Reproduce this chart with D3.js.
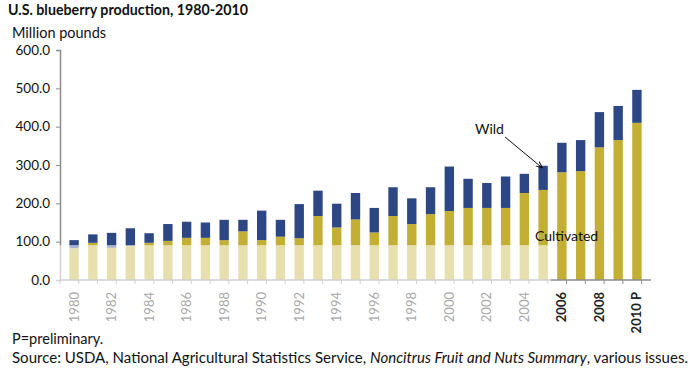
<!DOCTYPE html>
<html>
<head>
<meta charset="utf-8">
<script src="https://cdn.jsdelivr.net/npm/d3@7"></script>
<style>
  body { margin: 0; background: #fff; }
  text { font-family: Lato, "Open Sans", sans-serif; }
</style>
</head>
<body>
<svg id="chart" width="691" height="372"></svg>
<script>
// values (million pounds)
const years = [1980, 1981, 1982, 1983, 1984, 1985, 1986, 1987, 1988, 1989,
  1990, 1991, 1992, 1993, 1994, 1995, 1996, 1997, 1998, 1999,
  2000, 2001, 2002, 2003, 2004, 2005, 2006, 2007, 2008, 2009, 2010];
const cultivated = [83, 97, 84, 89, 97, 102, 110, 110, 104, 127,
  104, 113, 109, 167, 137, 158, 124, 167, 146, 172,
  180, 188, 188, 188, 227, 235, 281, 284, 346, 365, 410];
const wild = [21, 22, 39, 46, 25, 44, 42, 40, 53, 30,
  77, 44, 89, 66, 62, 69, 64, 75, 67, 70,
  116, 76, 65, 82, 50, 63, 77, 81, 92, 89, 86];
const yTicks = [0, 100, 200, 300, 400, 500, 600];
const labelYears = [1980, 1982, 1984, 1986, 1988, 1990, 1992, 1994, 1996,
  1998, 2000, 2002, 2004, 2006, 2008, 2010];

const svg = d3.select("#chart");
const margin = {left: 60, right: 40, top: 50, bottom: 92};
const width = 691 - margin.left - margin.right;
const height = 372 - margin.top - margin.bottom;

const g = svg.append("g")
  .attr("transform", "translate(" + margin.left + "," + margin.top + ")");

const x = d3.scaleBand().domain(years).range([0, width]).padding(0.5);
const y = d3.scaleLinear().domain([0, 600]).range([height, 0]);

const data = years.map(function (yr, i) {
  return {year: yr, cultivated: cultivated[i], wild: wild[i]};
});
const stack = d3.stack().keys(["cultivated", "wild"])(data);
const colors = {cultivated: "#C4AF35", wild: "#2C4784"};

g.selectAll("g.series")
  .data(stack)
  .enter().append("g")
  .attr("class", "series")
  .attr("fill", function (d) { return colors[d.key]; })
  .selectAll("rect")
  .data(function (d) { return d; })
  .enter().append("rect")
  .attr("x", function (d) { return x(d.data.year); })
  .attr("width", x.bandwidth())
  .attr("y", function (d) { return y(d[1]); })
  .attr("height", function (d) { return y(d[0]) - y(d[1]); });

// y axis
const yAxis = g.append("g")
  .call(d3.axisLeft(y).tickValues(yTicks).tickSize(4).tickFormat(d3.format(".1f")));
yAxis.select(".domain").attr("stroke", "#8c8c8c").attr("stroke-width", 1.5);
yAxis.selectAll(".tick line").attr("stroke", "#8c8c8c");
yAxis.selectAll(".tick text")
  .attr("x", -10)
  .attr("font-size", 13.5)
  .attr("fill", "#111");

// x axis: ticks sit between bars
const xAxis = g.append("g")
  .attr("transform", "translate(0," + height + ")");
xAxis.append("line")
  .attr("x1", 0).attr("x2", width)
  .attr("stroke", "#8c8c8c").attr("stroke-width", 1.5);
xAxis.selectAll("line.tk")
  .data(years.concat([null]))
  .enter().append("line")
  .attr("class", "tk")
  .attr("x1", function (d, i) { return i * x.step(); })
  .attr("x2", function (d, i) { return i * x.step(); })
  .attr("y1", 0).attr("y2", 4)
  .attr("stroke", "#8c8c8c");
xAxis.selectAll("text.yr")
  .data(labelYears)
  .enter().append("text")
  .attr("class", "yr")
  .attr("transform", function (d) {
    return "translate(" + (x(d) + x.bandwidth() / 2 + 4.5) + ",12) rotate(-90)";
  })
  .attr("text-anchor", "end")
  .attr("font-size", 13)
  .attr("font-weight", function (d) { return d >= 2006 ? "bold" : "normal"; })
  .attr("fill", "#222")
  .text(function (d) { return d === 2010 ? "2010 P" : d; });

// washed-out watermark band over the lower left of the plot
svg.append("rect")
  .attr("x", 55).attr("y", margin.top + y(91))
  .attr("width", x(2005) + x.bandwidth() + margin.left - 55 + 3)
  .attr("height", 345 - (margin.top + y(91)))
  .attr("fill", "#fff").attr("opacity", 0.6);

// annotations
g.append("text")
  .attr("x", 415).attr("y", 84)
  .attr("font-size", 14).attr("fill", "#111")
  .text("Wild");
svg.append("defs").append("marker")
  .attr("id", "arr").attr("viewBox", "0 0 10 10")
  .attr("refX", 9).attr("refY", 5)
  .attr("markerWidth", 7).attr("markerHeight", 7)
  .attr("orient", "auto")
  .append("path").attr("d", "M0,1 L10,5 L0,9").attr("fill", "none").attr("stroke", "#111").attr("stroke-width", 1.4);
g.append("line")
  .attr("x1", 445).attr("y1", 87)
  .attr("x2", x(2005) + x.bandwidth() / 2 - 1).attr("y2", y(298) + 2)
  .attr("stroke", "#111").attr("stroke-width", 1)
  .attr("marker-end", "url(#arr)");
g.append("text")
  .attr("x", 475).attr("y", 191)
  .attr("font-size", 14).attr("fill", "#111")
  .text("Cultivated");

// titles and notes
svg.append("text")
  .attr("x", 8).attr("y", 15)
  .attr("font-size", 14.5).attr("font-weight", "bold").attr("fill", "#111")
  .attr("textLength", 240).attr("lengthAdjust", "spacingAndGlyphs")
  .text("U.S. blueberry production, 1980-2010");
svg.append("text")
  .attr("x", 12).attr("y", 38)
  .attr("font-size", 14.5).attr("fill", "#111")
  .text("Million pounds");
svg.append("text")
  .attr("x", 12).attr("y", 344)
  .attr("font-size", 14.5).attr("fill", "#111")
  .text("P=preliminary.");
const src = svg.append("text")
  .attr("x", 12).attr("y", 363)
  .attr("font-size", 14.5).attr("fill", "#111")
  .attr("textLength", 676).attr("lengthAdjust", "spacingAndGlyphs");
src.append("tspan").text("Source: USDA, National Agricultural Statistics Service, ");
src.append("tspan").attr("font-style", "italic").text("Noncitrus Fruit and Nuts Summary");
src.append("tspan").text(", various issues.");
</script>
</body>
</html>
